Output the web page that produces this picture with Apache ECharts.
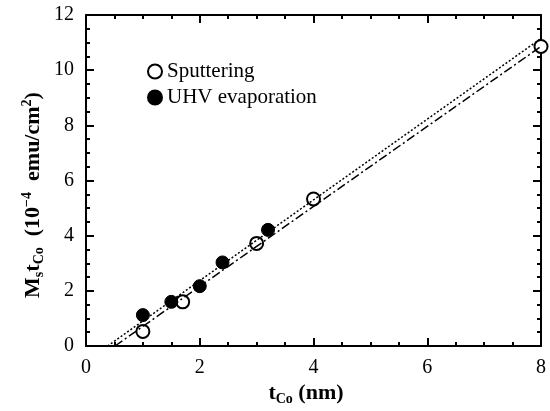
<!DOCTYPE html>
<html>
<head>
<meta charset="utf-8">
<script src="https://cdn.jsdelivr.net/npm/echarts@6/dist/echarts.min.js"></script>
<style>
    html, body { margin: 0; padding: 0; background: #fff; }
    #chart { width: 550px; height: 411px; }
</style>
</head>
<body>
<div id="chart"></div>
<script>
    // values (x: t_Co in nm, y: Ms*t_Co in 1e-4 emu/cm2)
    var sputterX = [1.0, 1.7, 3.0, 4.0, 8.0];
    var sputterY = [0.53, 1.6, 3.72, 5.33, 10.86];
    var uhvX = [1.0, 1.5, 2.0, 2.4, 3.2];
    var uhvY = [1.12, 1.6, 2.17, 3.03, 4.21];
    // the two fitted lines, end points only
    var fitDottedX = [0.38, 8.0];
    var fitDottedY = [0, 11.15];
    var fitDashX = [0.51, 8.0];
    var fitDashY = [0, 10.86];

    function pairs(xs, ys) {
        return xs.map(function (x, i) { return [x, ys[i]]; });
    }

    var serif = '"Liberation Serif", "DejaVu Serif", serif';
    var nameRich = {
        b: { fontFamily: serif, fontWeight: 'bold', fontSize: 22, lineHeight: 32, verticalAlign: 'middle', fill: '#000' },
        sub: { fontFamily: serif, fontWeight: 'bold', fontSize: 14, lineHeight: 32, verticalAlign: 'bottom', padding: [0, 0, 3, 0], fill: '#000' },
        sup: { fontFamily: serif, fontWeight: 'bold', fontSize: 14, lineHeight: 32, verticalAlign: 'top', padding: [3, 0, 0, 0], fill: '#000' }
    };

    function baseAxis(min, max) {
        return {
            type: 'value',
            min: min,
            max: max,
            interval: 2,
            axisLine: { show: true, onZero: false, lineStyle: { color: '#000', width: 2 } },
            axisTick: { show: true, inside: true, length: 8, lineStyle: { color: '#000', width: 2 } },
            minorTick: { show: true, splitNumber: 4, length: 4, lineStyle: { color: '#000', width: 2 } },
            splitLine: { show: false },
            axisLabel: { show: true, margin: 12, fontFamily: serif, fontSize: 20, color: '#000' }
        };
    }

    var xMain = baseAxis(0, 8);
    xMain.position = 'bottom';
    var xTop = baseAxis(0, 8);
    xTop.position = 'top';
    xTop.axisLabel.show = false;
    var yMain = baseAxis(0, 12);
    yMain.position = 'left';
    var yRight = baseAxis(0, 12);
    yRight.position = 'right';
    yRight.axisLabel.show = false;

    var chart = echarts.init(document.getElementById('chart'));
    chart.setOption({
        animation: false,
        grid: { left: 86, right: 9, top: 15, bottom: 65, outerBoundsMode: 'none' },
        legend: {
            data: ['Sputtering', 'UHV evaporation'],
            orient: 'vertical',
            left: 142,
            top: 56,
            itemWidth: 14,
            itemHeight: 14,
            itemGap: 5,
            textStyle: { fontFamily: serif, fontSize: 21, color: '#000' }
        },
        // axis titles with sub/superscripts
        graphic: [
            {
                type: 'text',
                x: 306,
                y: 393,
                style: {
                    text: '{b|t}{sub|Co}{b| (nm)}',
                    rich: nameRich,
                    align: 'center',
                    verticalAlign: 'middle'
                }
            },
            {
                type: 'text',
                x: 33,
                y: 195,
                rotation: Math.PI / 2,
                style: {
                    text: '{b|M}{sub|s}{b|t}{sub|Co}{b|  (10}{sup|\u22124}{b|  emu/cm}{sup|2}{b|)}',
                    rich: nameRich,
                    align: 'center',
                    verticalAlign: 'middle'
                }
            }
        ],
        xAxis: [xMain, xTop],
        yAxis: [yMain, yRight],
        series: [
            {
                name: 'fit dotted',
                type: 'line',
                data: pairs(fitDottedX, fitDottedY),
                symbol: 'none',
                lineStyle: { color: '#000', width: 1.5, type: [2, 2] }
            },
            {
                name: 'fit dash-dot',
                type: 'line',
                data: pairs(fitDashX, fitDashY),
                symbol: 'none',
                lineStyle: { color: '#000', width: 1.5, type: [9, 3, 2, 3] }
            },
            {
                name: 'Sputtering',
                type: 'scatter',
                data: pairs(sputterX, sputterY),
                symbol: 'circle',
                symbolSize: 13,
                itemStyle: { color: '#fff', borderColor: '#000', borderWidth: 2, opacity: 1 }
            },
            {
                name: 'UHV evaporation',
                type: 'scatter',
                data: pairs(uhvX, uhvY),
                symbol: 'circle',
                symbolSize: 13,
                itemStyle: { color: '#000', borderColor: '#000', borderWidth: 1, opacity: 1 }
            }
        ]
    });
</script>
</body>
</html>
